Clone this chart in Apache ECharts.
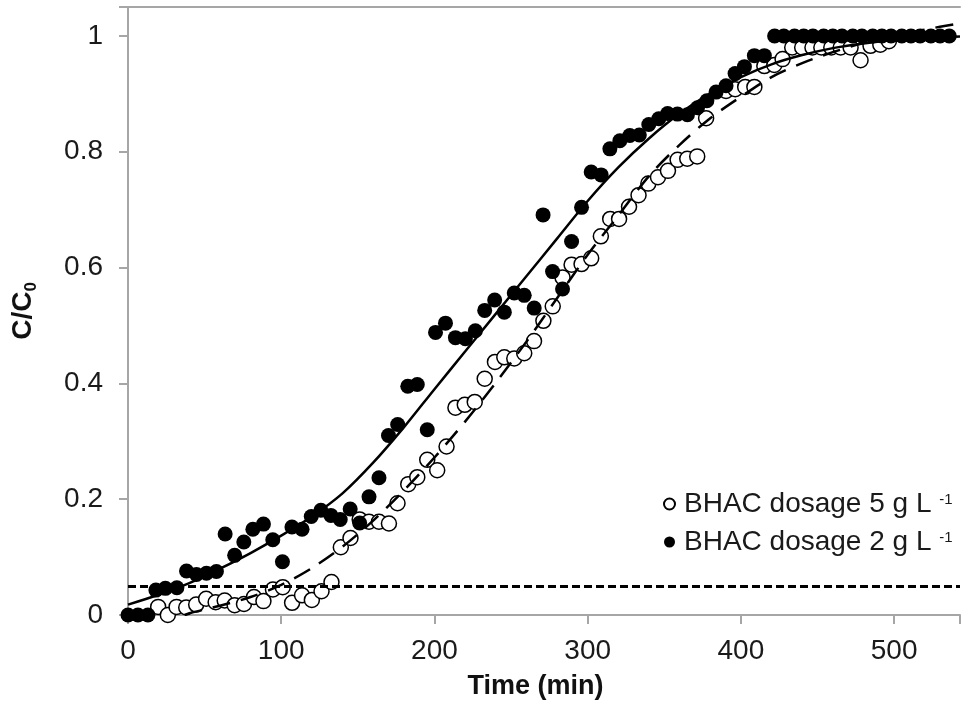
<!DOCTYPE html>
<html>
<head>
<meta charset="utf-8">
<script src="https://cdn.jsdelivr.net/npm/echarts@6/dist/echarts.min.js"></script>
<style>html,body{margin:0;padding:0;background:#fff}#c{width:963px;height:709px}</style>
</head>
<body>
<div id="c"></div>
<script>
// ---- data ----
const seriesNames = ['BHAC dosage 5 g L', 'BHAC dosage 2 g L'];
const unitSup = '-1';
const xTicks = [0, 100, 200, 300, 400, 500];
const yTicks = [0, 0.2, 0.4, 0.6, 0.8, 1];
const threshold = 0.05;

// 5 g/L (open circles)
const t5 = [19.7,26.0,31.7,38.0,44.5,51.0,57.2,63.1,69.6,75.7,82.2,88.4,94.6,101.0,107.1,113.6,120.0,126.3,132.8,138.9,
  145.2,151.2,157.3,163.8,170.3,175.9,182.9,188.8,195.3,201.8,207.9,213.7,219.8,226.3,232.8,239.5,245.6,252.1,258.6,265.0,
  271.1,277.2,283.6,289.5,296.0,302.3,308.6,314.7,320.5,327.0,333.2,339.6,345.9,352.4,358.7,365.0,371.5,377.3,390.3,396.3,
  402.8,408.8,415.3,421.8,427.2,433.5,440.0,446.7,452.5,459.0,465.1,471.6,478.1,484.6,491.0,496.6];
const c5 = [0.014,0.0,0.014,0.013,0.018,0.028,0.022,0.025,0.017,0.019,0.031,0.024,0.044,0.048,0.021,0.034,0.026,0.041,0.057,0.117,
  0.133,0.165,0.161,0.161,0.158,0.193,0.226,0.238,0.268,0.250,0.291,0.358,0.363,0.368,0.408,0.437,0.445,0.443,0.452,0.473,
  0.508,0.533,0.583,0.605,0.606,0.616,0.654,0.684,0.684,0.705,0.725,0.745,0.756,0.767,0.786,0.788,0.792,0.858,0.905,0.908,
  0.912,0.912,0.948,0.950,0.960,0.980,0.980,0.980,0.980,0.980,0.980,0.980,0.958,0.983,0.985,0.991];

// 2 g/L (filled circles)
const t2 = [0,6.5,13.0,18.2,24.4,31.9,38.2,44.7,51.2,57.7,63.4,69.6,75.6,81.5,88.4,94.5,100.8,107.0,113.6,119.6,
  125.9,132.4,138.5,145.0,151.2,157.3,163.8,170.0,176.0,182.6,188.8,195.3,200.7,207.2,213.7,220.2,226.7,232.8,239.3,245.6,
  252.1,258.6,265.1,270.9,277.1,283.6,289.5,296.0,302.3,308.8,314.5,321.0,327.5,333.7,339.9,346.4,352.2,358.6,365.1,371.7,
  377.8,383.8,390.3,396.2,402.3,408.8,415.3,422,428,435,441,447,454,460,466,473,479,486,492,498,505,511,517,524,530,536,542];
const c2 = [0,0,0,0.043,0.046,0.047,0.076,0.070,0.072,0.075,0.140,0.103,0.126,0.148,0.157,0.130,0.092,0.152,0.148,0.170,
  0.181,0.172,0.165,0.183,0.159,0.204,0.237,0.310,0.329,0.395,0.398,0.320,0.488,0.504,0.479,0.477,0.491,0.526,0.544,0.523,
  0.556,0.552,0.530,0.691,0.593,0.563,0.645,0.704,0.765,0.760,0.805,0.819,0.828,0.829,0.847,0.857,0.866,0.865,0.864,0.876,
  0.888,0.903,0.914,0.935,0.947,0.966,0.966,1,1,1,1,1,1,1,1,1,1,1,1,1,1,1,1,1,1,1];

// fitted model curves
const fit2T = [0,20,40,60,80,100,120,140,160,180,200,220,240,260,280,300,320,340,360,380,400,420,440,460,480,500,543];
const fit2C = [0.018,0.035,0.055,0.080,0.107,0.137,0.170,0.210,0.263,0.324,0.390,0.455,0.520,0.585,0.650,0.715,0.773,0.823,0.866,0.901,0.929,0.951,0.967,0.979,0.987,0.993,0.999];
const fit5T = [37,40,60,80,100,120,140,160,180,200,220,240,260,280,300,320,340,360,380,400,420,440,460,480,500,520,543];
const fit5C = [0.0,0.003,0.016,0.031,0.052,0.081,0.118,0.163,0.215,0.272,0.334,0.401,0.472,0.547,0.622,0.690,0.758,0.812,0.858,0.895,0.929,0.953,0.972,0.988,1.001,1.011,1.022];

const zip = (a, b) => a.map((v, i) => [v, b[i]]);
const FONT = "'Liberation Sans', Arial, sans-serif";
const axisCol = '#a6a6a6';
const X_MAX = 543;

const chart = echarts.init(document.getElementById('c'), null, {renderer: 'canvas'});
chart.setOption({
  animation: false,
  backgroundColor: '#fff',
  grid: {left: 128, top: 7, bottom: 94, right: 0, show: false},
  xAxis: [{
    type: 'value', min: 0, max: X_MAX, interval: 100,
    name: 'Time (min)', nameLocation: 'middle', nameGap: 58,
    nameTextStyle: {fontFamily: FONT, fontSize: 27, fontWeight: 'bold', color: '#111', padding: [0, 17, 0, 0]},
    axisLine: {show: true, lineStyle: {color: axisCol, width: 2}},
    axisTick: {show: true, inside: false, length: 9, lineStyle: {color: axisCol, width: 2}},
    axisLabel: {fontFamily: FONT, fontSize: 28, color: '#1a1a1a', margin: 22,
      formatter: v => xTicks.includes(v) ? String(v) : ''},
    splitLine: {show: false}
  }, {
    type: 'value', position: 'top', min: 0, max: X_MAX,
    axisLine: {show: true, lineStyle: {color: axisCol, width: 2}},
    axisTick: {show: false}, axisLabel: {show: false}, splitLine: {show: false}
  }],
  yAxis: {
    type: 'value', min: 0, max: 1.05, interval: 0.2,
    name: '{a|C/C}{s|0}', nameLocation: 'middle', nameGap: 88, nameRotate: 90,
    nameTextStyle: {
      rich: {
        a: {fontFamily: FONT, fontSize: 28, fontWeight: 'bold', color: '#111', lineHeight: 34},
        s: {fontFamily: FONT, fontSize: 17, fontWeight: 'bold', color: '#111', lineHeight: 17, verticalAlign: 'bottom'}
      }
    },
    axisLine: {show: true, lineStyle: {color: axisCol, width: 2}},
    axisTick: {show: true, inside: false, length: 9, lineStyle: {color: axisCol, width: 2}},
    axisLabel: {fontFamily: FONT, fontSize: 28, color: '#1a1a1a', margin: 25,
      formatter: v => { const m = yTicks.find(t => Math.abs(t - v) < 1e-6); return m === undefined ? '' : String(m); }},
    splitLine: {show: false}
  },
  legend: {
    data: seriesNames, orient: 'vertical', left: 658, top: 484,
    itemWidth: 11, itemHeight: 11, itemGap: 9, icon: 'circle',
    formatter: n => '{a|' + n + ' }{s|' + unitSup + '}',
    textStyle: {
      padding: [0, 0, 0, 4],
      rich: {
        a: {fontFamily: FONT, fontSize: 28, color: '#1a1a1a', lineHeight: 30},
        s: {fontFamily: FONT, fontSize: 15, color: '#1a1a1a', lineHeight: 16, verticalAlign: 'top', padding: [3, 0, 0, 0]}
      }
    }
  },
  series: [
    {
      name: 'threshold', type: 'line', data: [], silent: true, z: 1,
      markLine: {silent: true, symbol: 'none', label: {show: false},
        lineStyle: {color: '#000', width: 3, type: [8, 4]}, data: [{yAxis: threshold}]}
    },
    {
      name: seriesNames[0], type: 'scatter', data: zip(t5, c5), symbol: 'circle', symbolSize: 15, z: 2,
      itemStyle: {color: '#fff', borderColor: '#000', borderWidth: 1.5, opacity: 1}
    },
    {
      name: seriesNames[1], type: 'scatter', data: zip(t2, c2), symbol: 'circle', symbolSize: 15, z: 3,
      itemStyle: {color: '#000', borderColor: '#000', borderWidth: 0, opacity: 1}
    },
    {
      name: 'fit2', type: 'line', data: zip(fit2T, fit2C), showSymbol: false, smooth: 0.3, z: 4,
      lineStyle: {color: '#000', width: 2.5, type: 'solid'}
    },
    {
      name: 'fit5', type: 'line', data: zip(fit5T, fit5C), showSymbol: false, smooth: 0.3, z: 4,
      lineStyle: {color: '#000', width: 2.5, type: [18, 11]}
    }
  ]
});
</script>
</body>
</html>
